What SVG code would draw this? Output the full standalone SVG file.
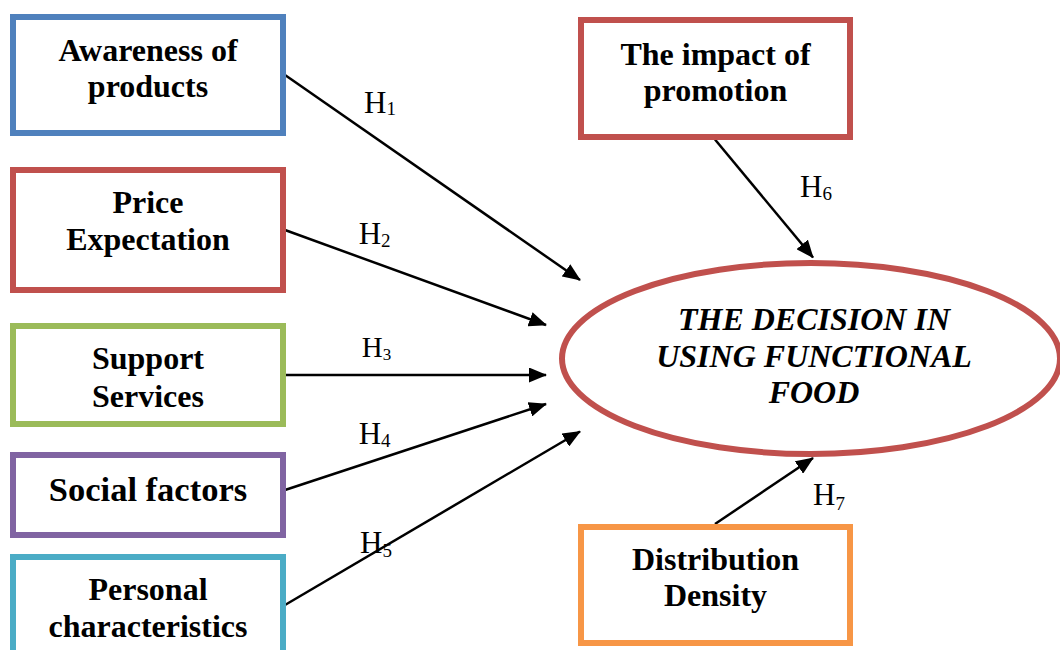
<svg xmlns="http://www.w3.org/2000/svg" width="1060" height="650" viewBox="0 0 1060 650">
<defs>
<style>
.box{fill:#fff;stroke-width:6}
.t{font-family:"Liberation Serif","Times New Roman",serif;font-weight:bold;font-size:32px;text-anchor:middle;fill:#000}
.e{font-family:"Liberation Serif","Times New Roman",serif;font-weight:bold;font-style:italic;font-size:32px;text-anchor:middle;fill:#000}
.h{font-family:"Liberation Serif","Times New Roman",serif;font-size:31px;fill:#000}
.s{font-size:19px}
.c{stroke:#000;stroke-width:2.5;fill:none;marker-end:url(#ah)}
</style>
<marker id="ah" markerUnits="userSpaceOnUse" viewBox="0 0 18 15" markerWidth="18" markerHeight="15" refX="17" refY="7.5" orient="auto">
<path d="M0,0 L18,7.5 L0,15 z" fill="#000"/>
</marker>
</defs>
<rect width="1060" height="650" fill="#fff"/>

<g id="connectors">
<line class="c" x1="285" y1="75" x2="580" y2="280"/>
<line class="c" x1="285" y1="230" x2="546" y2="325"/>
<line class="c" x1="285" y1="375" x2="546" y2="375"/>
<line class="c" x1="285" y1="490" x2="546" y2="404"/>
<line class="c" x1="285" y1="605" x2="580" y2="431.5"/>
<line class="c" x1="715" y1="139.5" x2="813" y2="257.5"/>
<line class="c" x1="715" y1="524" x2="813" y2="458"/>
<text class="h" x="364" y="112.7">H<tspan class="s" dy="2.5">1</tspan></text>
<text class="h" x="358.7" y="244">H<tspan class="s" dy="2.5">2</tspan></text>
<text class="h" x="361.7" y="356.7" style="font-size:29px">H<tspan class="s" dy="3" style="font-size:17px">3</tspan></text>
<text class="h" x="358.7" y="444">H<tspan class="s" dy="2.5">4</tspan></text>
<text class="h" x="360" y="553.3">H<tspan class="s" dy="4">5</tspan></text>
<text class="h" x="800" y="196.7">H<tspan class="s" dy="3">6</tspan></text>
<text class="h" x="813" y="504.7">H<tspan class="s" dy="5">7</tspan></text>
</g>

<g id="awareness">
<rect class="box" x="13" y="17" width="270" height="116" stroke="#4F81BD"/>
<text class="t" x="148" y="61">Awareness of</text>
<text class="t" x="148" y="96.5">products</text>
</g>
<g id="price">
<rect class="box" x="13" y="170" width="270" height="120" stroke="#C0504D"/>
<text class="t" x="148" y="213">Price</text>
<text class="t" x="148" y="250">Expectation</text>
</g>
<g id="support">
<rect class="box" x="13" y="326" width="270" height="98" stroke="#9BBB59"/>
<text class="t" x="148" y="369">Support</text>
<text class="t" x="148" y="406.5">Services</text>
</g>
<g id="social">
<rect class="box" x="13" y="455" width="270" height="80" stroke="#8064A2"/>
<text class="t" x="148" y="501" style="font-size:34.5px">Social factors</text>
</g>
<g id="personal">
<rect class="box" x="13" y="557" width="270" height="100" stroke="#4BACC6"/>
<text class="t" x="148" y="600">Personal</text>
<text class="t" x="148" y="636.5">characteristics</text>
</g>
<g id="promotion">
<rect class="box" x="581" y="20" width="269" height="117" stroke="#C0504D"/>
<text class="t" x="715.5" y="64.5">The impact of</text>
<text class="t" x="715.5" y="101">promotion</text>
</g>
<g id="distribution">
<rect class="box" x="581" y="527" width="269" height="116" stroke="#F79646"/>
<text class="t" x="715.5" y="570">Distribution</text>
<text class="t" x="715.5" y="606">Density</text>
</g>
<g id="decision">
<ellipse cx="811" cy="358.5" rx="249" ry="95.5" fill="#fff" stroke="#C0504D" stroke-width="6"/>
<text class="e" x="814" y="330">THE DECISION IN</text>
<text class="e" x="814" y="366.5">USING FUNCTIONAL</text>
<text class="e" x="814" y="403">FOOD</text>
</g>
</svg>
